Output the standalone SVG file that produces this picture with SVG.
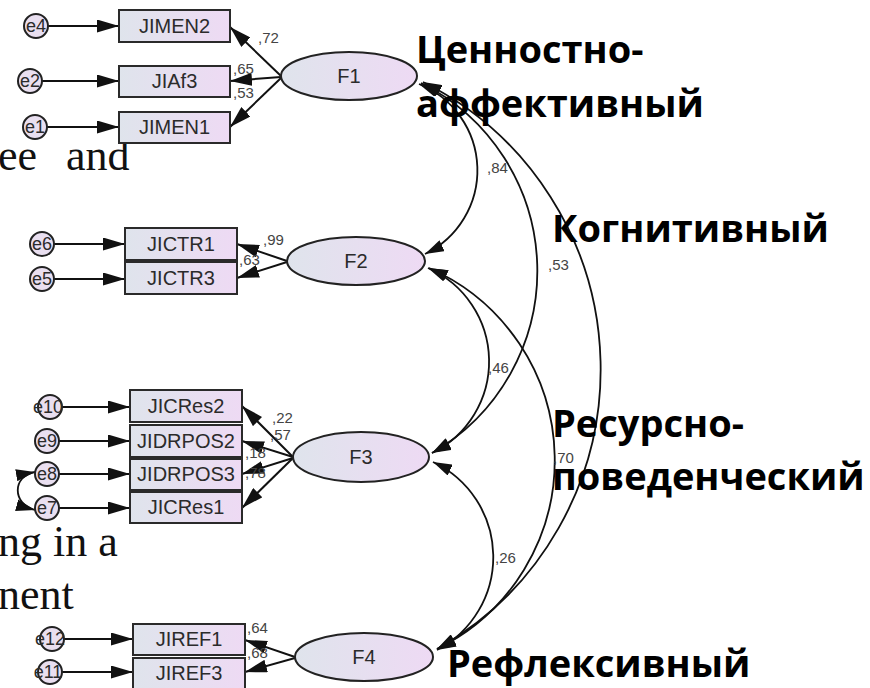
<svg xmlns="http://www.w3.org/2000/svg" width="870" height="688" viewBox="0 0 870 688">
<style>
.bg{font-family:"Liberation Serif","Times New Roman",serif;font-size:44px;fill:#111}
.ru{font-family:"Open Sans","Noto Sans",sans-serif;font-weight:bold;font-size:38px;fill:#000}
.box{fill:url(#g);stroke:#2a2a2a;stroke-width:2}
.lat{fill:url(#g);stroke:#222;stroke-width:2}
.err{fill:#e9dff0;stroke:#222;stroke-width:2}
.bt{font-family:"Liberation Sans",Arial,sans-serif;font-size:20px;fill:#2b2b2b;text-anchor:middle}
.et{font-family:"Liberation Sans",Arial,sans-serif;font-size:18px;fill:#2b2b2b;text-anchor:middle}
.num{font-family:"Liberation Sans",Arial,sans-serif;font-size:15px;fill:#444}
.ln{fill:none;stroke:#111;stroke-width:2;marker-end:url(#ah)}
.cv{fill:none;stroke:#111;stroke-width:1.8;marker-start:url(#ac);marker-end:url(#ac)}
</style>
<defs>
<linearGradient id="g" x1="0" y1="0" x2="1" y2="0">
<stop offset="0" stop-color="#dfe4ec"/>
<stop offset="1" stop-color="#eedaf4"/>
</linearGradient>
<marker id="ah" markerUnits="userSpaceOnUse" markerWidth="22" markerHeight="13" refX="22" refY="6.5" orient="auto-start-reverse">
<path d="M0,0 L22,6.5 L0,13 z" fill="#111"/>
</marker>
<marker id="ac" markerUnits="userSpaceOnUse" markerWidth="19" markerHeight="12" refX="19" refY="6" orient="auto-start-reverse">
<path d="M0,0 L19,6 L0,12 z" fill="#111"/>
</marker>
</defs>
<rect width="870" height="688" fill="#fff"/>
<g id="background-text" class="bg">
<text x="-2" y="170">ee</text>
<text x="66" y="170">and</text>
<text x="-2" y="556">ng in a</text>
<text x="-2" y="609">nent</text>
</g>
<g id="connectors">
<line class="ln" x1="48" y1="26" x2="119" y2="26"/>
<line class="ln" x1="42" y1="81" x2="119" y2="81"/>
<line class="ln" x1="47" y1="127" x2="119" y2="127"/>
<line class="ln" x1="54" y1="244" x2="125" y2="244"/>
<line class="ln" x1="54" y1="279" x2="125" y2="279"/>
<line class="ln" x1="62" y1="407" x2="130" y2="407"/>
<line class="ln" x1="59" y1="441" x2="130" y2="441"/>
<line class="ln" x1="59" y1="474" x2="130" y2="474"/>
<line class="ln" x1="59" y1="508" x2="130" y2="508"/>
<line class="ln" x1="64" y1="639" x2="133" y2="639"/>
<line class="ln" x1="62" y1="672" x2="133" y2="672"/>
<path class="cv" d="M35,472 C12,476 12,504 35,510"/>
<line class="ln" x1="281" y1="76" x2="230" y2="27"/>
<line class="ln" x1="281" y1="77" x2="230" y2="81"/>
<line class="ln" x1="281" y1="78" x2="230" y2="127"/>
<line class="ln" x1="287" y1="261" x2="237" y2="244"/>
<line class="ln" x1="287" y1="262" x2="237" y2="278"/>
<line class="ln" x1="293" y1="457" x2="242" y2="406"/>
<line class="ln" x1="293" y1="457" x2="242" y2="441"/>
<line class="ln" x1="293" y1="458" x2="242" y2="474"/>
<line class="ln" x1="293" y1="458" x2="242" y2="508"/>
<line class="ln" x1="295" y1="657" x2="245" y2="640"/>
<line class="ln" x1="295" y1="658" x2="245" y2="672"/>
<path class="cv" d="M419,84 A93,93 0 0 1 425,254"/>
<path class="cv" d="M421,83 A210,210 0 0 1 432,453"/>
<path class="cv" d="M423,82 A321,321 0 0 1 437,649"/>
<path class="cv" d="M428,268 A102,102 0 0 1 432,453"/>
<path class="cv" d="M429,268 A210,210 0 0 1 437,649"/>
<path class="cv" d="M433,462 A105,105 0 0 1 437,650"/>
</g>
<g id="labels" class="num">
<text x="258" y="43">,72</text>
<text x="233" y="74">,65</text>
<text x="233" y="98">,53</text>
<text x="263" y="245">,99</text>
<text x="239" y="265">,63</text>
<text x="272" y="423">,22</text>
<text x="270" y="440">,57</text>
<text x="245" y="458">,18</text>
<text x="245" y="478">,78</text>
<text x="247" y="633">,64</text>
<text x="247" y="658">,68</text>
<text x="487" y="173">,84</text>
<text x="548" y="270">,53</text>
<text x="488" y="373">,46</text>
<text x="553" y="463">,70</text>
<text x="495" y="563">,26</text>
</g>
<g id="F1"><ellipse class="lat" cx="349" cy="76" rx="68" ry="24"/><text class="bt" x="349" y="83">F1</text></g>
<g id="F2"><ellipse class="lat" cx="356" cy="261" rx="69" ry="24"/><text class="bt" x="356" y="268">F2</text></g>
<g id="F3"><ellipse class="lat" cx="361" cy="457" rx="68" ry="25"/><text class="bt" x="361" y="464">F3</text></g>
<g id="F4"><ellipse class="lat" cx="364" cy="657" rx="69" ry="24"/><text class="bt" x="364" y="664">F4</text></g>
<g id="JIMEN2"><rect class="box" x="119" y="10" width="111" height="32"/><text class="bt" x="174.5" y="33">JIMEN2</text></g>
<g id="JIAf3"><rect class="box" x="119" y="66" width="111" height="31"/><text class="bt" x="174.5" y="88">JIAf3</text></g>
<g id="JIMEN1"><rect class="box" x="119" y="112" width="111" height="31"/><text class="bt" x="174.5" y="134">JIMEN1</text></g>
<g id="JICTR1"><rect class="box" x="125" y="228" width="112" height="32"/><text class="bt" x="181" y="251">JICTR1</text></g>
<g id="JICTR3"><rect class="box" x="125" y="262" width="112" height="32"/><text class="bt" x="181" y="285">JICTR3</text></g>
<g id="JICRes2"><rect class="box" x="130" y="390" width="112" height="32"/><text class="bt" x="186" y="413">JICRes2</text></g>
<g id="JIDRPOS2"><rect class="box" x="130" y="425" width="112" height="32"/><text class="bt" x="186" y="448">JIDRPOS2</text></g>
<g id="JIDRPOS3"><rect class="box" x="130" y="459" width="112" height="31"/><text class="bt" x="186" y="481">JIDRPOS3</text></g>
<g id="JICRes1"><rect class="box" x="130" y="492" width="112" height="31"/><text class="bt" x="186" y="514">JICRes1</text></g>
<g id="JIREF1"><rect class="box" x="133" y="624" width="112" height="31"/><text class="bt" x="189" y="646">JIREF1</text></g>
<g id="JIREF3"><rect class="box" x="133" y="658" width="112" height="31"/><text class="bt" x="189" y="680">JIREF3</text></g>
<g id="e4"><circle class="err" cx="36" cy="26" r="12"/><text class="et" x="36" y="32">e4</text></g>
<g id="e2"><circle class="err" cx="30" cy="81" r="12"/><text class="et" x="30" y="87">e2</text></g>
<g id="e1"><circle class="err" cx="35" cy="127" r="12"/><text class="et" x="35" y="133">e1</text></g>
<g id="e6"><circle class="err" cx="42" cy="244" r="12"/><text class="et" x="42" y="250">e6</text></g>
<g id="e5"><circle class="err" cx="42" cy="279" r="12"/><text class="et" x="42" y="285">e5</text></g>
<g id="e10"><circle class="err" cx="50" cy="407" r="12"/><text class="et" x="48" y="413">e10</text></g>
<g id="e9"><circle class="err" cx="47" cy="441" r="12"/><text class="et" x="47" y="447">e9</text></g>
<g id="e8"><circle class="err" cx="47" cy="474" r="12"/><text class="et" x="47" y="480">e8</text></g>
<g id="e7"><circle class="err" cx="47" cy="508" r="12"/><text class="et" x="47" y="514">e7</text></g>
<g id="e12"><circle class="err" cx="52" cy="639" r="12"/><text class="et" x="50" y="645">e12</text></g>
<g id="e11"><circle class="err" cx="50" cy="672" r="12"/><text class="et" x="48" y="678">e11</text></g>
<g id="factor-names" class="ru">
<text x="416" y="63">Ценностно-</text>
<text x="416" y="117">аффективный</text>
<text x="552" y="242">Когнитивный</text>
<text x="552" y="437">Ресурсно-</text>
<text x="552" y="490">поведенческий</text>
<text x="447" y="677">Рефлексивный</text>
</g>
</svg>
